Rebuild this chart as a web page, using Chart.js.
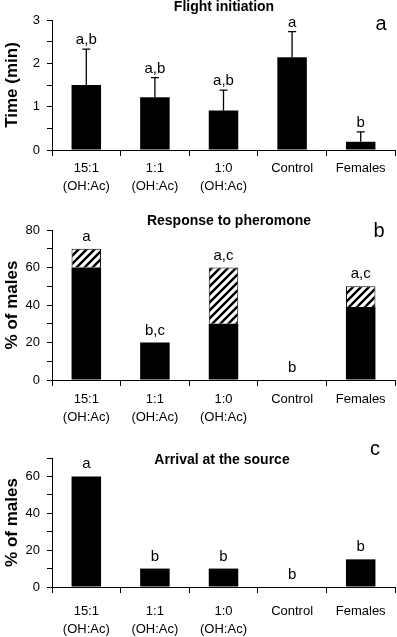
<!DOCTYPE html>
<html>
<head>
<meta charset="utf-8">
<script src="https://cdn.jsdelivr.net/npm/chart.js@4.4.1/dist/chart.umd.min.js"></script>
<style>
  body { margin:0; background:#fff; }
  #page { position:relative; width:397px; height:637px; overflow:hidden; background:#fff; }
  canvas { position:absolute; left:0; }
</style>
</head>
<body>
<div id="page">
  <canvas id="cFlight" width="397" height="200" style="top:0px"></canvas>
  <canvas id="cResponse" width="397" height="234" style="top:200px"></canvas>
  <canvas id="cArrival" width="397" height="217" style="top:420px"></canvas>
</div>
<script>
// categories (shared by the three panels)
const categories = [['15:1','(OH:Ac)'], ['1:1','(OH:Ac)'], ['1:0','(OH:Ac)'], 'Control', 'Females'];

// a - flight initiation (min), mean + error
const flightTime = [1.5, 1.22, 0.91, 2.14, 0.19];
const flightError = [0.83, 0.45, 0.47, 0.59, 0.23];
const flightLetters = ['a,b', 'a,b', 'a,b', 'a', 'b'];

// b - response to pheromone (% of males), solid part + hatched part on top
const responseSolid = [60, 20, 30, 0, 39];
const responseHatched = [10, 0, 30, 0, 11];
const responseLetters = ['a', 'b,c', 'a,c', 'b', 'a,c'];

// c - arrival at the source (% of males)
const arrival = [60, 10, 10, 0, 15];
const arrivalLetters = ['a', 'b', 'b', 'b', 'b'];

const FONT = "'Liberation Sans', Arial, sans-serif";
const NARROW = "'Liberation Sans Narrow', 'Liberation Sans', Arial, sans-serif";
Chart.defaults.font.family = FONT;
Chart.defaults.color = '#000';

function hatch() {
  const s = 8;
  const c = document.createElement('canvas');
  c.width = s; c.height = s;
  const g = c.getContext('2d');
  g.fillStyle = '#fff';
  g.fillRect(0, 0, s, s);
  g.strokeStyle = '#000';
  g.lineWidth = 2.4;
  g.beginPath();
  g.moveTo(-1, s + 1); g.lineTo(s + 1, -1);
  g.moveTo(-2, 2); g.lineTo(2, -2);
  g.moveTo(s - 2, s + 2); g.lineTo(s + 2, s - 2);
  g.stroke();
  return g.createPattern(c, 'repeat');
}

// error bars, letters over the bars, panel title and panel letter
const extras = {
  id: 'extras',
  afterDatasetsDraw(chart, args, o) {
    const ctx = chart.ctx;
    const y = chart.scales.y;
    const bars = chart.getDatasetMeta(0).data;
    ctx.save();
    ctx.fillStyle = '#000';
    ctx.strokeStyle = '#000';
    if (o.errors) {
      ctx.lineWidth = 1.3;
      bars.forEach((bar, i) => {
        const yTop = y.getPixelForValue(o.values[i] + o.errors[i]);
        ctx.beginPath();
        ctx.moveTo(bar.x, bar.y); ctx.lineTo(bar.x, yTop);
        ctx.moveTo(bar.x - 4, yTop); ctx.lineTo(bar.x + 4, yTop);
        ctx.stroke();
      });
    }
    ctx.textAlign = 'center';
    ctx.textBaseline = 'alphabetic';
    ctx.font = '15px ' + NARROW;
    bars.forEach((bar, i) => {
      ctx.fillText(o.letters[i], bar.x, y.getPixelForValue(o.tops[i]) - o.gap);
    });
    ctx.font = 'bold 14px ' + FONT;
    ctx.fillText(o.title, o.titleX, o.titleY);
    ctx.font = '20px ' + FONT;
    ctx.fillText(o.panel, o.panelX, o.panelY);
    ctx.restore();
  }
};

function panel(id, datasets, yTitle, yMax, yStep, showLabel, top, bottom, labelPad, extraOpts) {
  const h = document.getElementById(id).height;
  return new Chart(document.getElementById(id), {
    type: 'bar',
    data: { labels: categories, datasets: datasets },
    plugins: [extras],
    options: {
      responsive: false,
      animation: false,
      layout: { padding: { top: top, right: 2, left: 0, bottom: 0 } },
      plugins: { legend: { display: false }, tooltip: { enabled: false }, extras: extraOpts },
      datasets: { bar: { categoryPercentage: 1, barPercentage: 0.43 } },
      scales: {
        x: {
          stacked: true,
          border: { color: '#000', width: 1 },
          grid: { offset: true, drawOnChartArea: false, tickLength: 6, color: '#000' },
          ticks: { font: { size: 13, lineHeight: 1.4 }, padding: labelPad, maxRotation: 0, autoSkip: false },
          afterFit: s => { s.height = h - bottom; }
        },
        y: {
          stacked: true,
          min: 0, max: yMax,
          border: { color: '#000', width: 1 },
          grid: { drawOnChartArea: false, tickLength: 5, color: '#000' },
          ticks: { stepSize: yStep, autoSkip: false, padding: 7, font: { size: 13 },
                   callback: v => showLabel(v) ? v : '' },
          title: { display: true, text: yTitle, font: { size: 17, weight: 'bold' }, padding: { top: 2, bottom: 0 } },
          afterFit: s => { s.width = 52; }
        }
      }
    }
  });
}

panel('cFlight',
  [{ data: flightTime, backgroundColor: '#000' }],
  'Time (min)', 3, 0.5, v => Number.isInteger(v), 20, 150, 3,
  { values: flightTime, errors: flightError, letters: flightLetters,
    tops: flightTime.map((v, i) => v + flightError[i]), gap: 5,
    title: 'Flight initiation', titleX: 224, titleY: 11, panel: 'a', panelX: 381, panelY: 30 });

panel('cResponse',
  [{ data: responseSolid, backgroundColor: '#000' },
   { data: responseHatched, backgroundColor: hatch(), borderColor: '#000', borderWidth: 1 }],
  '% of males', 80, 10, v => v % 20 === 0, 30, 180, 4,
  { letters: responseLetters, tops: responseSolid.map((v, i) => v + responseHatched[i]), gap: 8,
    title: 'Response to pheromone', titleX: 229, titleY: 25, panel: 'b', panelX: 379, panelY: 37 });

panel('cArrival',
  [{ data: arrival, backgroundColor: '#000' }],
  '% of males', 70, 10, v => v % 20 === 0, 38, 167, 9,
  { letters: arrivalLetters, tops: arrival, gap: 8,
    title: 'Arrival at the source', titleX: 222, titleY: 44, panel: 'c', panelX: 375, panelY: 35 });
</script>
</body>
</html>
